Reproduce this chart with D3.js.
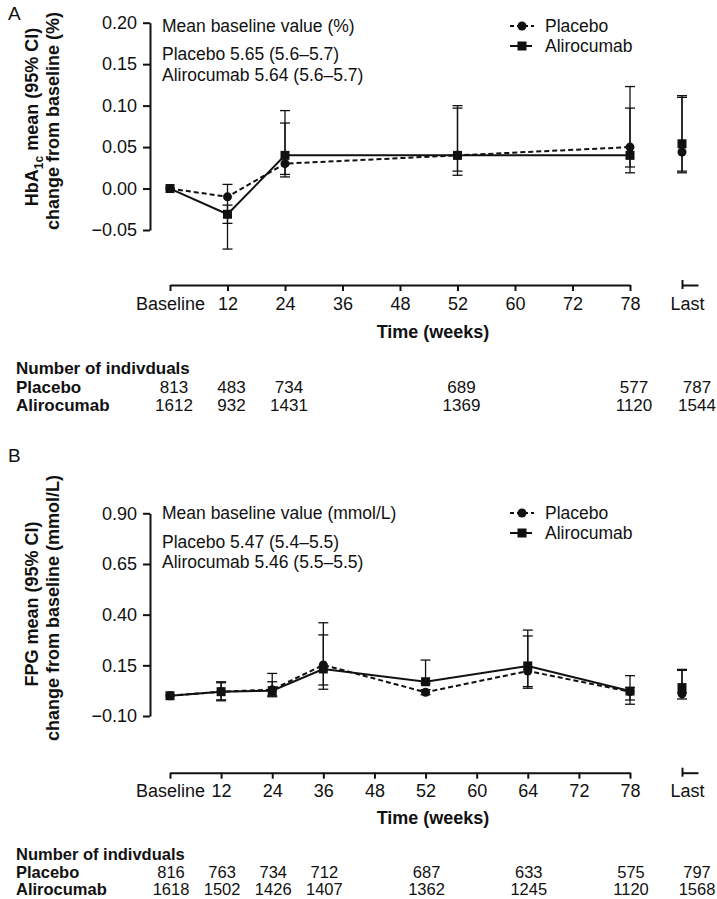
<!DOCTYPE html>
<html><head><meta charset="utf-8">
<script src="https://cdn.jsdelivr.net/npm/d3@7"></script>
<style>
body{margin:0;background:#fff;}
svg text{font-family:"Liberation Sans",Arial,sans-serif;fill:#111;}
</style></head>
<body>
<svg id="chart" width="717" height="899"></svg>
<script>
// ---------- Panel A data (HbA1c) ----------
const catsA = ["Baseline","12","24","36","48","52","60","72","78"];
const ptsA = ["Baseline","12","24","52","78","Last"];
const placeboA    = [0, -0.010, 0.030, 0.040, 0.050, 0.044];
const placeboA_lo = [null, -0.073, 0.014, 0.016, 0.019, 0.019];
const placeboA_hi = [null, 0.005, 0.094, 0.100, 0.123, 0.112];
const aliroA      = [0, -0.031, 0.040, 0.040, 0.040, 0.054];
const aliroA_lo   = [null, -0.042, 0.017, 0.021, 0.026, 0.021];
const aliroA_hi   = [null, -0.020, 0.079, 0.097, 0.097, 0.110];
const ticksA = [-0.05, 0.00, 0.05, 0.10, 0.15, 0.20];
const nPlaceboA = ["813","483","734","689","577","787"];
const nAliroA   = ["1612","932","1431","1369","1120","1544"];

// ---------- Panel B data (FPG) ----------
const catsB = ["Baseline","12","24","36","48","52","60","64","72","78"];
const ptsB = ["Baseline","12","24","36","52","64","78","Last"];
const placeboB    = [0, 0.020, 0.030, 0.152, 0.017, 0.122, 0.020, 0.010];
const placeboB_lo = [null, -0.025, 0.000, 0.032, 0.005, 0.037, -0.042, -0.016];
const placeboB_hi = [null, 0.069, 0.110, 0.360, 0.030, 0.324, 0.099, 0.130];
const aliroB      = [0, 0.020, 0.025, 0.132, 0.069, 0.147, 0.023, 0.040];
const aliroB_lo   = [null, -0.020, -0.005, 0.053, 0.060, 0.045, -0.021, 0.015];
const aliroB_hi   = [null, 0.064, 0.069, 0.300, 0.176, 0.295, 0.040, 0.125];
const ticksB = [-0.10, 0.15, 0.40, 0.65, 0.90];
const nPlaceboB = ["816","763","734","712","687","633","575","797"];
const nAliroB   = ["1618","1502","1426","1407","1362","1245","1120","1568"];

const svg = d3.select("#chart");
const FS = 17.5;
const FF = "'Liberation Sans',Arial,sans-serif";

function drawPanel(cfg){
  const g = svg.append("g");
  const x = d3.scalePoint().domain(cfg.cats).range([170, 630]);
  const lastX = 682;
  const xp = c => c === "Last" ? lastX : x(c);
  const y = d3.scaleLinear().domain(cfg.ydom).range(cfg.yrange);

  g.append("text").attr("x", 8).attr("y", cfg.letterY).attr("dominant-baseline","central")
    .style("font-size","19px").text(cfg.letter);

  const ya = g.append("g").attr("transform","translate(150,0)")
    .call(d3.axisLeft(y).tickValues(cfg.yticks).tickFormat(d3.format(".2f")).tickSize(7).tickPadding(6).tickSizeOuter(0));
  ya.select(".domain").attr("stroke","#111").attr("stroke-width",2);
  ya.selectAll(".tick line").attr("stroke","#111").attr("stroke-width",2);
  ya.selectAll(".tick text").style("font-size","18px").attr("fill","#111").style("font-family",FF);

  const xa = g.append("g").attr("transform",`translate(0,${cfg.xAxisY})`)
    .call(d3.axisBottom(x).tickSize(6).tickPadding(6).tickSizeOuter(0));
  xa.select(".domain").attr("stroke","#111").attr("stroke-width",2);
  xa.selectAll(".tick line").attr("stroke","#111").attr("stroke-width",2);
  xa.selectAll(".tick text").style("font-size","18px").attr("fill","#111").style("font-family",FF);

  const xl = d3.scalePoint().domain(["Last"]).range([lastX, lastX+16]).align(0);
  const la = g.append("g").attr("transform",`translate(0,${cfg.xAxisY})`)
    .call(d3.axisBottom(xl).tickSize(6).tickPadding(6).tickSizeOuter(0));
  la.select(".domain").attr("stroke","#111").attr("stroke-width",2);
  la.selectAll(".tick line").attr("stroke","#111").attr("stroke-width",2).attr("y1",-5).attr("y2",4);
  la.selectAll(".tick text").style("font-size","18px").attr("fill","#111").attr("dx",5).style("font-family",FF);

  g.append("text").attr("x",433).attr("y",cfg.xTitleY).attr("text-anchor","middle")
    .attr("dominant-baseline","central").style("font-size","18px").style("font-weight","bold")
    .text("Time (weeks)");

  const t1 = g.append("text").attr("transform",`translate(32,${cfg.yTitleY}) rotate(-90)`)
    .attr("text-anchor","middle").attr("dominant-baseline","central")
    .style("font-size","18px").style("font-weight","bold");
  cfg.yTitle1(t1);
  g.append("text").attr("transform",`translate(53,${cfg.yTitleY+4}) rotate(-90)`)
    .attr("text-anchor","middle").attr("dominant-baseline","central")
    .style("font-size","18px").style("font-weight","bold").text(cfg.yTitle2);

  cfg.notes.forEach((t,i)=>{
    g.append("text").attr("x",162).attr("y",cfg.noteY[i]).attr("dominant-baseline","central")
      .style("font-size",FS+"px").text(t);
  });

  const legY = [cfg.legY, cfg.legY+20];
  const lg = g.append("g");
  lg.append("line").attr("x1",510).attr("x2",534).attr("y1",legY[0]).attr("y2",legY[0])
    .attr("stroke","#111").attr("stroke-width",2).attr("stroke-dasharray","4,3");
  lg.append("circle").attr("cx",522).attr("cy",legY[0]).attr("r",4.5).attr("fill","#111");
  lg.append("line").attr("x1",510).attr("x2",532).attr("y1",legY[1]).attr("y2",legY[1])
    .attr("stroke","#111").attr("stroke-width",2);
  lg.append("rect").attr("x",517.5).attr("y",legY[1]-4.5).attr("width",9).attr("height",9).attr("fill","#111");
  lg.append("text").attr("x",545).attr("y",legY[0]).attr("dominant-baseline","central").style("font-size",FS+"px").text("Placebo");
  lg.append("text").attr("x",545).attr("y",legY[1]).attr("dominant-baseline","central").style("font-size",FS+"px").text("Alirocumab");

  const series = [
    {vals: cfg.pl, lo: cfg.plLo, hi: cfg.plHi, dash: "5,3", shape: "circle"},
    {vals: cfg.al, lo: cfg.alLo, hi: cfg.alHi, dash: null, shape: "square"}
  ];
  const cap = 5;
  series.forEach(s=>{
    cfg.pts.forEach((c,i)=>{
      if (s.lo[i] == null) return;
      const cx = xp(c);
      g.append("line").attr("x1",cx).attr("x2",cx).attr("y1",y(s.lo[i])).attr("y2",y(s.hi[i]))
        .attr("stroke","#111").attr("stroke-width",1.3);
      [s.lo[i], s.hi[i]].forEach(v=>{
        g.append("line").attr("x1",cx-cap).attr("x2",cx+cap).attr("y1",y(v)).attr("y2",y(v))
          .attr("stroke","#111").attr("stroke-width",1.3);
      });
    });
  });
  series.forEach(s=>{
    const pts = cfg.pts.map((c,i)=>({c, v:s.vals[i]})).filter(d=>d.c!=="Last");
    g.append("path").datum(pts)
      .attr("d", d3.line().x(d=>xp(d.c)).y(d=>y(d.v)))
      .attr("fill","none").attr("stroke","#111").attr("stroke-width",2)
      .attr("stroke-dasharray", s.dash);
  });
  series.forEach(s=>{
    cfg.pts.forEach((c,i)=>{
      if (s.shape === "circle") {
        g.append("circle").attr("cx",xp(c)).attr("cy",y(s.vals[i])).attr("r",4.5).attr("fill","#111");
      } else {
        g.append("rect").attr("x",xp(c)-4.5).attr("y",y(s.vals[i])-4.5).attr("width",9).attr("height",9).attr("fill","#111");
      }
    });
  });

  const TF = cfg.tabFont;
  g.append("text").attr("x",16).attr("y",cfg.tabY[0]).attr("dominant-baseline","central")
    .style("font-size",TF).style("font-weight","bold").text("Number of indivduals");
  g.append("text").attr("x",16).attr("y",cfg.tabY[1]).attr("dominant-baseline","central")
    .style("font-size",TF).style("font-weight","bold").text("Placebo");
  g.append("text").attr("x",16).attr("y",cfg.tabY[2]).attr("dominant-baseline","central")
    .style("font-size",TF).style("font-weight","bold").text("Alirocumab");
  [cfg.nPl, cfg.nAl].forEach((arr,r)=>{
    arr.forEach((n,i)=>{
      const c = cfg.pts[i];
      const tx = xp(c) + (c==="Last" ? 15 : cfg.tabOff);
      g.append("text").attr("x",tx).attr("y",cfg.tabY[r+1]).attr("text-anchor","middle")
        .attr("dominant-baseline","central").style("font-size",TF).text(n);
    });
  });
}

drawPanel({
  letter:"A", letterY:13,
  cats:catsA, pts:ptsA, ydom:[-0.05,0.20], yrange:[230,22.7], yticks:ticksA,
  xAxisY:285, xTitleY:332, yTitleY:117,
  yTitle1: t => { t.append("tspan").text("HbA");
                  t.append("tspan").attr("baseline-shift","sub").style("font-size","12px").text("1c");
                  t.append("tspan").text(" mean (95% CI)"); },
  yTitle2:"change from baseline (%)",
  notes:["Mean baseline value (%)","Placebo 5.65 (5.6\u20135.7)","Alirocumab 5.64 (5.6\u20135.7)"],
  noteY:[26,54,75], legY:26,
  pl:placeboA, plLo:placeboA_lo, plHi:placeboA_hi,
  al:aliroA, alLo:aliroA_lo, alHi:aliroA_hi,
  tabY:[368,387,405], tabOff:4, tabFont:"17px", nPl:nPlaceboA, nAl:nAliroA
});

drawPanel({
  letter:"B", letterY:455,
  cats:catsB, pts:ptsB, ydom:[-0.10,0.90], yrange:[716,513.3], yticks:ticksB,
  xAxisY:772.7, xTitleY:818, yTitleY:604,
  yTitle1: t => { t.text("FPG mean (95% CI)"); },
  yTitle2:"change from baseline (mmol/L)",
  notes:["Mean baseline value (mmol/L)","Placebo 5.47 (5.4\u20135.5)","Alirocumab 5.46 (5.5\u20135.5)"],
  noteY:[513,542,562], legY:513,
  pl:placeboB, plLo:placeboB_lo, plHi:placeboB_hi,
  al:aliroB, alLo:aliroB_lo, alHi:aliroB_hi,
  tabY:[854,872,889], tabOff:1, tabFont:"16.5px", nPl:nPlaceboB, nAl:nAliroB
});
</script>
</body></html>
